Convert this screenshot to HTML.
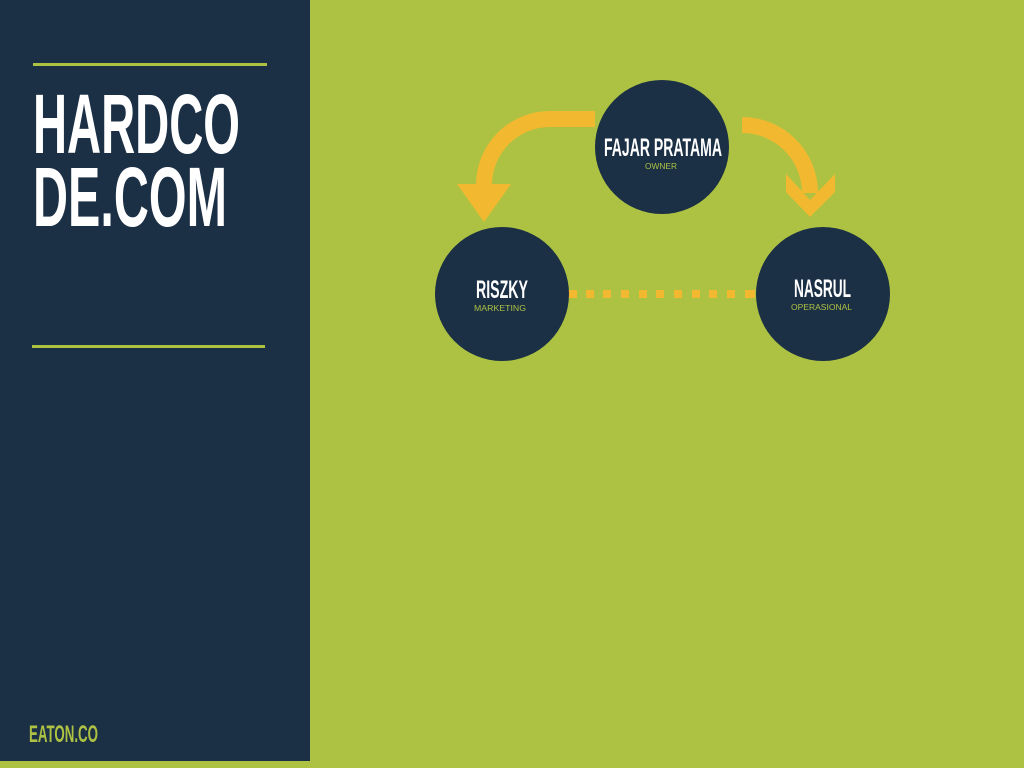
<!DOCTYPE html>
<html><head><meta charset="utf-8"><style>
html,body{margin:0;padding:0;width:1024px;height:768px;overflow:hidden;background:#adc242}
svg{display:block}
</style></head><body>
<svg width="1024" height="768" viewBox="0 0 1024 768">
<rect x="0" y="0" width="1024" height="768" fill="#adc242"/>
<rect x="0" y="0" width="310" height="761" fill="#1b2f45"/>
<rect x="33" y="63" width="234" height="3" fill="#adc242"/>
<rect x="32" y="345" width="233" height="3" fill="#adc242"/>
<g font-family="'Liberation Sans Narrow','Liberation Sans',sans-serif" font-weight="bold">
<text x="33" y="153" font-size="84" fill="#ffffff" textLength="207" lengthAdjust="spacingAndGlyphs">HARDCO</text>
<text x="33" y="226" font-size="84" fill="#ffffff" textLength="194" lengthAdjust="spacingAndGlyphs">DE.COM</text>
<text x="29" y="742" font-size="24" fill="#adc242" textLength="69" lengthAdjust="spacingAndGlyphs">EATON.CO</text>
</g>
<!-- arrows -->
<path d="M595,111 L550,111 A74,74 0 0 0 476,185 L492,185 A58,58 0 0 1 550,127 L595,127 Z" fill="#f2b930"/>
<polygon points="457,184 511,184 484,222" fill="#f2b930"/>
<path d="M742,117 A76,76 0 0 1 818,193 L802,193 A60,60 0 0 0 742,133 Z" fill="#f2b930"/>
<polygon points="786,174 786,192 810,217 835,192 835,174 810,200" fill="#f2b930"/>
<g fill="#f2b930">
<rect x="568" y="290" width="9" height="8"/><rect x="586" y="290" width="8" height="8"/><rect x="603" y="290" width="8" height="8"/><rect x="621" y="290" width="8" height="8"/><rect x="639" y="290" width="8" height="8"/><rect x="656" y="290" width="8" height="8"/><rect x="674" y="290" width="8" height="8"/><rect x="692" y="290" width="8" height="8"/><rect x="709" y="290" width="8" height="8"/><rect x="727" y="290" width="8" height="8"/><rect x="745" y="290" width="10" height="8"/>
</g>
<circle cx="662" cy="147" r="67" fill="#1b2f45"/>
<circle cx="502" cy="294" r="67" fill="#1b2f45"/>
<circle cx="823" cy="294" r="67" fill="#1b2f45"/>
<g font-family="'Liberation Sans Narrow','Liberation Sans',sans-serif" font-weight="bold" fill="#ffffff">
<text x="604" y="156" font-size="25" textLength="118" lengthAdjust="spacingAndGlyphs">FAJAR PRATAMA</text>
<text x="476" y="298" font-size="25" textLength="52" lengthAdjust="spacingAndGlyphs">RISZKY</text>
<text x="794" y="297" font-size="25" textLength="57" lengthAdjust="spacingAndGlyphs">NASRUL</text>
</g>
<g font-family="'Liberation Sans',sans-serif" fill="#adc242" font-size="8">
<text x="645" y="169" textLength="32" lengthAdjust="spacingAndGlyphs">OWNER</text>
<text x="474" y="311" textLength="52" lengthAdjust="spacingAndGlyphs">MARKETING</text>
<text x="791" y="310" textLength="61" lengthAdjust="spacingAndGlyphs">OPERASIONAL</text>
</g>
</svg>
</body></html>
